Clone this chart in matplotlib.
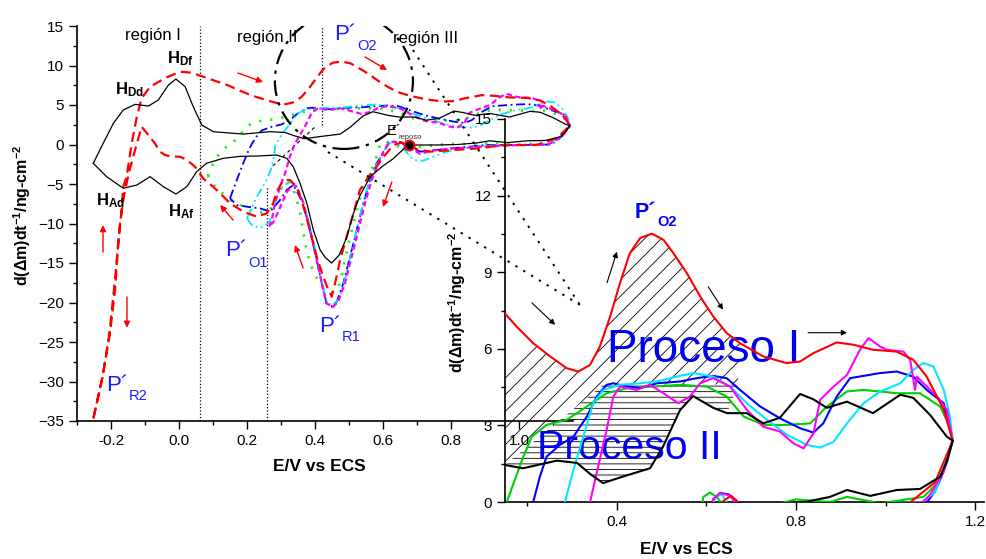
import matplotlib
matplotlib.use("Agg")
import matplotlib.pyplot as plt
from matplotlib.patches import Ellipse
from matplotlib.ticker import MultipleLocator
import numpy as np

plt.rcParams['font.family'] = 'Liberation Sans'
plt.rcParams['mathtext.fontset'] = 'custom'
plt.rcParams['mathtext.rm'] = 'Liberation Sans'
plt.rcParams['mathtext.bf'] = 'Liberation Sans:bold'
plt.rcParams['mathtext.default'] = 'regular'
plt.rcParams['hatch.linewidth'] = 0.6

# ---- datos (E / V vs ECS, d(dm)/dt) ----
# negro (ciclo sin oxigeno)
blk_up_E = [-0.252, -0.223, -0.193, -0.164, -0.129, -0.09, -0.061, -0.031, -0.009, 0.018, 0.042, 0.067,
            0.101, 0.15, 0.19, 0.266, 0.311, 0.34, 0.369, 0.414, 0.474, 0.503, 0.541, 0.57, 0.615, 0.646,
            0.69, 0.727, 0.764, 0.809, 0.838, 0.869, 0.914, 0.972, 1.033, 1.062, 1.1, 1.137, 1.15]
blk_up_y = [-2.38, 0.15, 2.68, 4.37, 5.08, 4.87, 5.63, 7.53, 8.29, 7.32, 4.78, 2.47,
            1.62, 1.45, 1.32, 1.62, 1.53, 1.1, 0.74, 1.0, 1.32, 2.17, 3.6, 4.15, 3.69, 3.48,
            3.48, 3.08, 3.3, 4.23, 4.03, 3.69, 3.93, 3.48, 4.2, 4.08, 3.4, 2.56, 2.4]
blk_dn_E = [1.15, 1.137, 1.122, 1.077, 1.025, 0.966, 0.914, 0.876, 0.82, 0.76, 0.705, 0.677, 0.66, 0.63,
            0.6, 0.581, 0.562, 0.532, 0.513, 0.493, 0.471, 0.449, 0.43, 0.415, 0.395, 0.376, 0.356, 0.336,
            0.317, 0.287, 0.229, 0.18, 0.13, 0.081, 0.052, 0.023, -0.009, -0.046, -0.085, -0.124, -0.164,
            -0.213, -0.252]
blk_dn_y = [2.4, 1.6, 0.99, 0.51, 0.47, 0.24, 0.47, 0.2, 0.0, -0.06, -0.06, -0.1, -0.6, -1.8,
            -2.7, -3.4, -4.1, -6.5, -8.7, -11.8, -14.0, -15.0, -14.3, -13.35, -10.8, -7.44, -4.91, -2.81,
            -1.75, -1.33, -1.46, -1.5, -1.75, -2.38, -3.44, -5.34, -6.27, -5.34, -4.07, -5.13, -5.54,
            -4.07, -2.38]

# rojo (primer ciclo)
red_up_E = [-0.252, -0.223, -0.203, -0.188, -0.179, -0.169, -0.164, -0.154, -0.139, -0.124, -0.11, -0.085,
            -0.036, 0.003, 0.037, 0.071, 0.11, 0.146, 0.176, 0.213, 0.251, 0.288, 0.314, 0.34, 0.362, 0.385,
            0.407, 0.429, 0.452, 0.478, 0.504, 0.526, 0.556, 0.586, 0.615, 0.645, 0.675, 0.727, 0.779, 0.809,
            0.839, 0.891, 0.928, 0.973, 1.025, 1.062, 1.092, 1.13, 1.15]
red_up_y = [-34.7, -28.96, -23.9, -18.4, -12.9, -8.3, -5.34, -4.07, 0.15, 3.52, 5.85, 7.32,
            8.5, 9.22, 9.09, 8.58, 8.0, 7.46, 6.87, 6.22, 5.7, 5.24, 5.11, 5.37, 6.09, 7.27,
            8.58, 9.75, 10.34, 10.51, 10.27, 9.75, 8.97, 8.05, 7.27, 6.62, 6.22, 5.7, 5.44, 5.5,
            5.83, 6.25, 6.16, 5.96, 5.89, 5.57, 4.91, 3.61, 2.4]
red_dn_E = [1.15, 1.111, 1.052, 0.954, 0.885, 0.807, 0.738, 0.7, 0.677, 0.655, 0.635, 0.62, 0.601, 0.581,
            0.562, 0.532, 0.513, 0.493, 0.474, 0.459, 0.449, 0.439, 0.424, 0.405, 0.385, 0.366, 0.346,
            0.326, 0.307, 0.287, 0.277, 0.258, 0.229, 0.189, 0.15, 0.111, 0.071, 0.047, 0.023, 0.003,
            -0.021, -0.041, -0.056, -0.071, -0.09, -0.11, -0.128, -0.147, -0.162, -0.175, -0.188, -0.205,
            -0.225, -0.252]
red_dn_y = [2.4, 0.78, -0.06, -0.06, -0.48, -0.7, -0.91, -0.6, -0.1, 0.25, 0.0, -0.6, -1.6, -2.8,
            -3.8, -5.76, -8.71, -11.67, -14.62, -17.57, -19.26, -18.4, -16.7, -14.2, -10.8, -7.87, -5.34,
            -4.49, -4.5, -6.0, -7.44, -8.71, -9.14, -8.5, -7.44, -5.76, -4.28, -2.8, -1.96, -1.54,
            -1.54, -1.33, -0.91, 0.15, 1.2, 2.25, -0.5, -3.5, -6.5, -10.5, -17.0, -24.0,
            -29.5, -34.7]

# verde
grn_up_E = [0.085, 0.091, 0.111, 0.14, 0.154, 0.169, 0.191, 0.21, 0.243, 0.288, 0.333, 0.377, 0.429, 0.481,
            0.541, 0.601, 0.645, 0.683, 0.727, 0.78, 0.832, 0.869, 0.914, 0.951, 1.025, 1.077, 1.122, 1.144,
            1.15]
grn_up_y = [-4.0, -3.23, -1.54, -0.28, 0.0, 0.73, 1.78, 2.56, 3.02, 3.22, 3.74, 4.26, 4.48, 4.52,
            4.59, 4.52, 4.13, 3.35, 3.02, 3.02, 3.08, 3.74, 4.33, 4.39, 4.26, 4.26, 3.74, 2.95,
            2.4]
grn_dn_E = [1.15, 1.137, 1.115, 1.085, 0.988, 0.914, 0.876, 0.8, 0.73, 0.68, 0.64, 0.623, 0.608, 0.593,
            0.585, 0.575, 0.562, 0.542, 0.523, 0.503, 0.488, 0.474, 0.449, 0.429, 0.405, 0.385, 0.371,
            0.356, 0.336, 0.317, 0.297, 0.268, 0.229, 0.189, 0.15, 0.106, 0.085]
grn_dn_y = [2.4, 1.52, 0.73, 0.2, -0.05, 0.2, 0.0, 0.1, -0.2, -0.4, -0.2, 0.2, 0.37, 0.2,
            -1.0, -2.4, -3.65, -5.34, -8.3, -11.67, -14.6, -17.6, -18.8, -18.4, -16.9, -15.04, -12.5,
            -8.5, -5.6, -4.7, -5.76, -8.29, -8.71, -7.87, -7.03, -5.34, -4.0]

# azul
blu_up_E = [0.15, 0.17, 0.189, 0.203, 0.213, 0.228, 0.243, 0.273, 0.303, 0.333, 0.355, 0.377, 0.392, 0.414,
            0.452, 0.489, 0.541, 0.578, 0.615, 0.645, 0.675, 0.72, 0.764, 0.809, 0.839, 0.861, 0.891, 0.921,
            0.951, 0.988, 1.025, 1.062, 1.092, 1.13, 1.15]
blu_up_y = [-6.81, -4.49, -2.38, -0.9, 0.0, 1.0, 1.78, 2.24, 2.56, 3.35, 4.13, 4.59, 4.65, 4.55,
            4.46, 4.65, 4.72, 4.85, 4.94, 4.85, 4.39, 3.74, 3.28, 2.89, 2.72, 3.08, 4.13, 4.85,
            4.94, 5.05, 5.11, 4.91, 4.39, 3.87, 2.4]
blu_dn_E = [1.15, 1.13, 1.11, 1.093, 1.0, 0.905, 0.806, 0.709, 0.68, 0.65, 0.63, 0.615, 0.601, 0.581,
            0.562, 0.542, 0.523, 0.503, 0.483, 0.464, 0.449, 0.434, 0.424, 0.405, 0.385, 0.366, 0.336,
            0.317, 0.297, 0.268, 0.238, 0.199, 0.17, 0.15]
blu_dn_y = [2.4, 1.2, 0.4, 0.0, -0.06, -0.06, -0.48, -0.91, -0.3, 0.3, 0.35, 0.1, -1.12, -2.38,
            -4.49, -7.44, -10.8, -14.2, -17.6, -19.9, -20.5, -20.1, -18.4, -14.6, -10.8, -7.44, -5.13,
            -5.76, -7.03, -8.5, -8.08, -7.87, -7.66, -6.81]

# cian
cya_up_E = [0.2, 0.229, 0.258, 0.27, 0.277, 0.284, 0.302, 0.325, 0.347, 0.37, 0.407, 0.452, 0.489, 0.541,
            0.571, 0.615, 0.653, 0.69, 0.735, 0.78, 0.824, 0.854, 0.884, 0.914, 0.951, 0.988, 1.033, 1.062,
            1.085, 1.107, 1.13, 1.144, 1.15]
cya_up_y = [-9.3, -6.6, -4.49, -3.2, -2.0, 0.0, 1.2, 2.56, 3.87, 4.39, 4.59, 4.65, 4.72, 4.94,
            5.05, 4.91, 4.52, 3.87, 3.22, 2.63, 2.24, 2.13, 2.36, 3.08, 3.87, 4.33, 4.65, 5.18,
            5.44, 5.31, 4.39, 3.35, 2.4]
cya_dn_E = [1.15, 1.14, 1.11, 1.08, 0.98, 0.88, 0.836, 0.787, 0.748, 0.718, 0.689, 0.66, 0.635, 0.62,
            0.608, 0.59, 0.57, 0.55, 0.53, 0.51, 0.49, 0.47, 0.449, 0.435, 0.42, 0.405, 0.385, 0.366,
            0.345, 0.325, 0.305, 0.287, 0.277, 0.263, 0.238, 0.214, 0.2]
cya_dn_y = [2.4, 1.84, 0.36, 0.0, -0.06, -0.2, -0.5, -0.91, -1.54, -2.05, -1.96, -0.5, 0.3, 0.2,
            -0.5, -1.8, -3.5, -6.0, -9.5, -13.0, -16.8, -19.6, -20.4, -19.8, -17.5, -14.0, -10.3, -7.3,
            -5.3, -4.7, -5.3, -6.6, -8.71, -9.97, -10.6, -10.2, -9.3]

# magenta
mag_up_E = [0.265, 0.273, 0.282, 0.297, 0.312, 0.326, 0.34, 0.358, 0.377, 0.392, 0.407, 0.444, 0.474, 0.504,
            0.537, 0.563, 0.586, 0.615, 0.653, 0.69, 0.727, 0.764, 0.794, 0.817, 0.839, 0.854, 0.884, 0.914,
            0.943, 0.962, 0.988, 1.003, 1.04, 1.055, 1.066, 1.07, 1.085, 1.115, 1.137, 1.15]
mag_up_y = [-10.4, -9.56, -7.44, -5.34, -3.65, -1.54, 0.0, 1.38, 2.82, 4.13, 4.52, 4.39, 4.59, 4.26,
            3.87, 4.13, 4.65, 4.85, 4.52, 3.61, 2.95, 2.76, 2.3, 2.1, 2.69, 4.0, 4.52, 4.98,
            5.96, 6.42, 6.09, 5.96, 5.89, 5.57, 4.39, 4.91, 4.65, 4.13, 3.61, 2.4]
mag_dn_E = [1.15, 1.13, 1.1, 1.085, 0.98, 0.88, 0.8, 0.74, 0.709, 0.68, 0.653, 0.63, 0.615, 0.6,
            0.587, 0.567, 0.547, 0.528, 0.508, 0.488, 0.468, 0.452, 0.434, 0.424, 0.405, 0.385, 0.366,
            0.346, 0.336, 0.317, 0.297, 0.278, 0.265]
mag_dn_y = [2.4, 1.2, 0.3, 0.0, -0.1, -0.3, -0.5, -0.8, -1.2, -0.4, 0.25, 0.35, 0.1, -1.0,
            -2.4, -4.49, -7.44, -10.8, -14.2, -17.6, -19.9, -20.6, -20.1, -18.4, -14.6, -10.8, -7.44,
            -5.3, -5.13, -6.0, -8.0, -9.8, -10.4]

curves = [
    # (up E, up y, down E, down y, color main, linestyle main, lw main, color inset)
    (grn_up_E, grn_up_y, grn_dn_E, grn_dn_y, '#22ee22', (0, (0.8, 3.2)), 2.0, '#00d000'),
    (blu_up_E, blu_up_y, blu_dn_E, blu_dn_y, '#0000ff', (0, (5, 2, 1, 2)), 1.3, '#0000ff'),
    (cya_up_E, cya_up_y, cya_dn_E, cya_dn_y, '#00e8ff', (0, (5, 2, 1, 2, 1, 2)), 1.3, '#00e8ff'),
    (mag_up_E, mag_up_y, mag_dn_E, mag_dn_y, '#ff00ff', (0, (2.5, 1.5)), 1.6, '#ff00ff'),
    (red_up_E, red_up_y, red_dn_E, red_dn_y, '#ff0000', (0, (4.5, 2.5)), 1.6, '#ff0000'),
    (blk_up_E, blk_up_y, blk_dn_E, blk_dn_y, 'black', '-', 0.9, 'black'),
]

fig = plt.figure(figsize=(9.86, 5.59), dpi=100)
ax = fig.add_axes([77 / 986, 1 - 421 / 559, 496.4 / 986, 395 / 559])
ins = fig.add_axes([505 / 986, 1 - 502 / 559, 479 / 986, 383 / 559])
ins.set_facecolor('none')

for upE, upy, dnE, dny, c, ls, lw, ci in curves:
    ax.plot(upE + dnE, upy + dny, color=c, ls=ls, lw=lw, zorder=3)
    ins.plot(upE + dnE, upy + dny, color=ci, lw=1.5, zorder=3)

# ---- grafico principal ----
ax.set_xlim(-0.3, 1.16)
ax.set_ylim(-35, 15)
ax.xaxis.set_major_locator(MultipleLocator(0.2))
ax.xaxis.set_minor_locator(MultipleLocator(0.1))
ax.yaxis.set_major_locator(MultipleLocator(5))
ax.yaxis.set_minor_locator(MultipleLocator(2.5))
for a in (ax, ins):
    a.spines['top'].set_visible(False)
    a.spines['right'].set_visible(False)
    a.spines['left'].set_linewidth(1.2)
    a.spines['bottom'].set_linewidth(1.2)
    a.tick_params(which='major', direction='out', length=6, width=1, labelsize=11)
    a.tick_params(which='minor', direction='out', length=3, width=1)
ax.xaxis.set_major_formatter(plt.FuncFormatter(lambda v, p: f"{v:.1f}"))

ax.set_xlabel('E/V vs ECS', fontsize=12.5, fontweight='bold')
ax.xaxis.set_label_coords(0.489, -0.095)
ax.set_ylabel('d(Δm)dt$^{-1}$/ng-cm$^{-2}$', fontsize=11.5, fontweight='bold')
ax.yaxis.set_label_coords(-0.089, 0.52)

# lineas de regiones
ax.plot([0.062, 0.062], [-35, 15], color='black', ls=':', lw=0.9, zorder=2)
ax.plot([0.259, 0.259], [-35, -5.25], color='black', ls=':', lw=0.9, zorder=2)
ax.plot([0.42, 0.42], [2.47, 15], color='black', ls=':', lw=0.9, zorder=2)
ax.plot([0.276, 0.403], [-2.72, 2.34], color='black', ls=(0, (3, 3)), lw=0.8, zorder=2)

# circulo de zoom y lineas hacia el inserto
ax.add_patch(Ellipse((0.485, 8.04), 0.406, 17.2, fill=False, ec='black', lw=1.6,
                     ls=(0, (7, 3, 1.5, 3)), zorder=4))
ax.plot([0.688, 1.179], [11.96, -20.3], color='black', ls=(0, (1.2, 3.5)), lw=1.4, zorder=4, clip_on=False)
ax.plot([0.438, 1.179], [-0.95, -20.3], color='black', ls=(0, (1.2, 3.5)), lw=1.4, zorder=4, clip_on=False)

ax.plot([0.677], [-0.1], 'o', ms=7, mfc='black', mec='red', mew=1.5, zorder=6)

tx = dict(ha='center', va='baseline', fontsize=12)
ax.text(-0.0765, 13.29, 'región I', **tx)
ax.text(0.259, 13.0, 'región II', **tx)
ax.text(0.726, 12.8, 'región III', **tx)

for s, e, y in [('Df', -0.035, 10.28), ('Dd', -0.188, 6.39), ('Ad', -0.244, -7.75), ('Af', -0.032, -9.05)]:
    ax.text(e, y, r'$\mathbf{H_{%s}}$' % s, fontsize=12, ha='left', va='baseline')

blue_t = '#1a1aff'
for sub, e, y, es, ys in [('O1', 0.137, -14.11, 0.203, -15.47), ('R1', 0.412, -23.7, 0.479, -24.84),
                          ('R2', -0.2147, -31.16, -0.147, -32.34), ('O2', 0.456, 13.23, 0.5235, 11.96)]:
    ax.text(e, y, 'P´', fontsize=16, color=blue_t, ha='left', va='baseline')
    ax.text(es, ys, sub, fontsize=10.5, color=blue_t, ha='left', va='baseline')

ax.text(0.612, 1.2, 'E´', fontsize=10.5, ha='left', va='baseline')
ax.text(0.647, 0.66, 'reposo', fontsize=5.5, color='#333333', ha='left', va='baseline')

arr = dict(arrowstyle='-|>', color='red', lw=1.0, mutation_scale=9, shrinkA=0, shrinkB=0)
for (x0, y0), (x1, y1) in [((0.1735, 9.05), (0.247, 7.91)), ((0.547, 11.08), (0.612, 9.43)),
                           ((0.159, -9.56), (0.121, -7.66)), ((0.365, -15.63), (0.341, -12.72)),
                           ((0.626, -4.75), (0.6, -7.91)), ((-0.2235, -13.6), (-0.2235, -10.2)),
                           ((-0.153, -19.3), (-0.153, -23.2))]:
    ax.annotate('', xy=(x1, y1), xytext=(x0, y0), arrowprops=arr, zorder=5)

# ---- inserto ----
ins.set_xlim(0.15, 1.22)
ins.set_ylim(0, 15)
ins.xaxis.set_major_locator(MultipleLocator(0.4))
ins.xaxis.set_minor_locator(MultipleLocator(0.2))
ins.yaxis.set_major_locator(MultipleLocator(3))
ins.yaxis.set_minor_locator(MultipleLocator(1.5))
ins.xaxis.set_major_formatter(plt.FuncFormatter(lambda v, p: f"{v:.1f}"))
ins.set_xlabel('E/V vs ECS', fontsize=12.5, fontweight='bold')
ins.xaxis.set_label_coords(0.379, -0.104)
ins.set_ylabel('d(Δm)dt$^{-1}$/ng-cm$^{-2}$', fontsize=11.5, fontweight='bold')
ins.yaxis.set_label_coords(-0.077, 0.522)

# zonas rayadas: Proceso I y Proceso II
bE = np.array(blk_up_E)
by = np.array(blk_up_y)
m2 = (bE >= 0.15) & (bE <= 0.67)
p2x = list(bE[m2]) + [0.67, 0.37]
p2y = list(by[m2]) + [4.6, 4.6]
ins.fill(p2x, p2y, facecolor='none', edgecolor='black', lw=0, hatch='---', zorder=1)

rE = np.array(red_up_E)
ry = np.array(red_up_y)
m1 = (rE >= 0.2) & (rE <= 0.68)
p1x = [0.15, 0.37, 0.67] + list(rE[m1][::-1]) + [0.15]
p1y = [1.45, 4.6, 4.6] + list(ry[m1][::-1]) + [5.3]
ins.fill(p1x, p1y, facecolor='none', edgecolor='black', lw=0, hatch='//', zorder=1)

ins.text(0.378, 5.49, 'Proceso I', fontsize=33, color='#0000ee', ha='left', va='baseline', zorder=2)
ins.text(0.2215, 1.69, 'Proceso II', fontsize=29.5, color='#0000ee', ha='left', va='baseline', zorder=2)
ins.text(0.4405, 11.12, 'P´', fontsize=15.5, fontweight='bold', color='#0000ff', ha='left', va='baseline')
ins.text(0.4897, 10.80, 'O2', fontsize=10.5, fontweight='bold', color='#0000ff', ha='left', va='baseline')

arr_k = dict(arrowstyle='-|>', color='black', lw=0.8, mutation_scale=8, shrinkA=0, shrinkB=0)
for (x0, y0), (x1, y1) in [((0.21, 7.8), (0.262, 6.94)), ((0.378, 8.59), (0.4, 9.8)),
                           ((0.604, 8.43), (0.637, 7.53)), ((0.827, 6.63), (0.914, 6.63))]:
    ins.annotate('', xy=(x1, y1), xytext=(x0, y0), arrowprops=arr_k, zorder=5)

fig.savefig('out.png', dpi=100)
